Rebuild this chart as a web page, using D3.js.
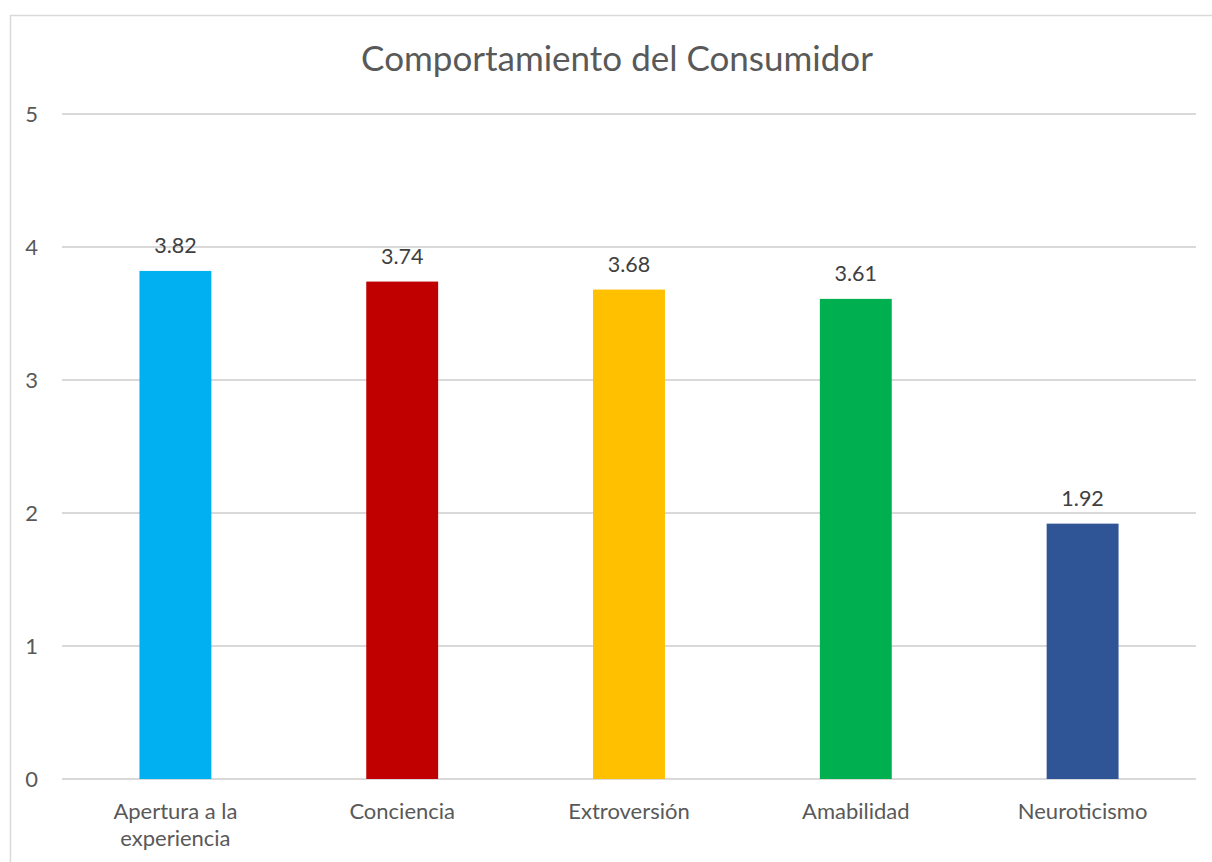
<!DOCTYPE html>
<html>
<head>
<meta charset="utf-8">
<script src="https://cdn.jsdelivr.net/npm/d3@7"></script>
<style>
  html, body { margin: 0; padding: 0; background: #ffffff; }
  svg { display: block; }
  text { font-family: Lato, "Open Sans", sans-serif; }
</style>
</head>
<body>
<svg id="chart" width="1212" height="862"></svg>
<script>
const title = "Comportamiento del Consumidor";
const categories = ["Apertura a la experiencia", "Conciencia", "Extroversión", "Amabilidad", "Neuroticismo"];
const values = [3.82, 3.74, 3.68, 3.61, 1.92];
const barColors = ["#00B0F0", "#C00000", "#FFC000", "#00B050", "#2F5597"];
const yTicks = [0, 1, 2, 3, 4, 5];

const svg = d3.select("#chart");
const W = 1212, H = 862;

// outer chart border (extends past the right/bottom of the view)
svg.append("rect")
  .attr("x", 10.5).attr("y", 15.5)
  .attr("width", W + 20).attr("height", H + 20)
  .attr("fill", "#ffffff")
  .attr("stroke", "#d9d9d9").attr("stroke-width", 1.5);

const plot = { left: 62, right: 1196, top: 114, bottom: 779 };

const x = d3.scaleBand()
  .domain(categories)
  .range([plot.left, plot.right])
  .paddingInner(0.683)
  .paddingOuter(0.3415);

const y = d3.scaleLinear()
  .domain([0, 5])
  .range([plot.bottom, plot.top]);

// gridlines
svg.append("g")
  .selectAll("line")
  .data(yTicks)
  .join("line")
  .attr("x1", plot.left).attr("x2", plot.right)
  .attr("y1", d => y(d)).attr("y2", d => y(d))
  .attr("stroke", "#d9d9d9").attr("stroke-width", 2);

// y axis labels
const yAxis = d3.axisLeft(y).tickValues(yTicks).tickSize(0).tickPadding(0).tickFormat(d3.format("d"));
const yG = svg.append("g").attr("transform", `translate(38,0)`).call(yAxis);
yG.select(".domain").remove();
yG.selectAll("text")
  .attr("fill", "#595959")
  .style("font-size", "22px")
  .style("font-family", "Lato, 'Open Sans', sans-serif");

// bars
svg.append("g")
  .selectAll("rect")
  .data(categories)
  .join("rect")
  .attr("x", d => x(d))
  .attr("width", x.bandwidth())
  .attr("y", (d, i) => y(values[i]))
  .attr("height", (d, i) => y(0) - y(values[i]))
  .attr("fill", (d, i) => barColors[i]);

// value labels
svg.append("g")
  .selectAll("text")
  .data(categories)
  .join("text")
  .attr("x", d => x(d) + x.bandwidth() / 2)
  .attr("y", (d, i) => y(values[i]) - 18)
  .attr("text-anchor", "middle")
  .attr("fill", "#404040")
  .style("font-size", "21.5px")
  .text((d, i) => values[i].toFixed(2));

// x axis labels with wrapping
const xAxis = d3.axisBottom(x).tickSize(0).tickPadding(0);
const xG = svg.append("g").attr("transform", `translate(0,${plot.bottom})`).call(xAxis);
xG.select(".domain").remove();
xG.selectAll("text")
  .attr("fill", "#595959")
  .style("font-size", "22px")
  .style("font-family", "Lato, 'Open Sans', sans-serif")
  .attr("y", 40)
  .attr("dy", 0)
  .each(function(d) {
    const t = d3.select(this);
    const words = d.split(" ");
    t.text(null);
    let line = [];
    let lineNo = 0;
    let tspan = t.append("tspan").attr("x", 0).attr("y", 40);
    words.forEach(w => {
      line.push(w);
      tspan.text(line.join(" "));
      if (tspan.node().getComputedTextLength() > 175 && line.length > 1) {
        line.pop();
        tspan.text(line.join(" "));
        line = [w];
        lineNo++;
        tspan = t.append("tspan").attr("x", 0).attr("y", 40 + lineNo * 27).text(w);
      }
    });
  });

// title
svg.append("text")
  .attr("x", 617).attr("y", 71)
  .attr("text-anchor", "middle")
  .attr("fill", "#595959")
  .style("font-size", "35px")
  .text(title);
</script>
</body>
</html>
